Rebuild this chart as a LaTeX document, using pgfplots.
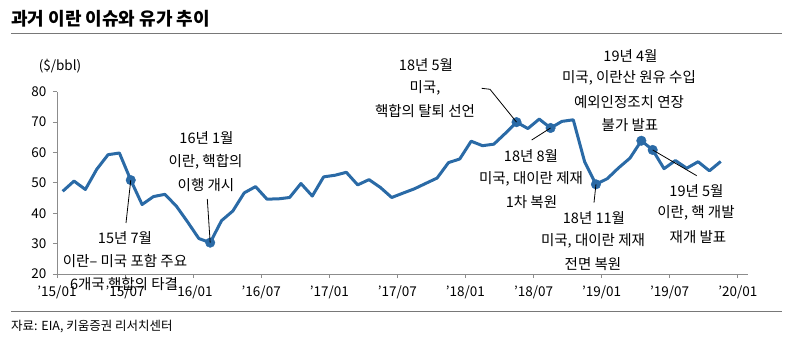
\documentclass[border=0pt]{standalone}
\usepackage{fontspec}
\setmainfont{Noto Sans CJK KR}
\usepackage{pgfplots}
\pgfplotsset{compat=1.18}
\definecolor{oil}{RGB}{42,106,166}
\definecolor{axg}{RGB}{140,140,140}
\definecolor{rule}{RGB}{120,120,120}
\newcommand\annfont{\fontsize{14.5}{16}\selectfont}
\newcommand\T[3]{\node[font=\annfont,inner sep=0pt] at (#1pt,351pt-#2pt) {#3};}
\pgfplotstableread{
m v
0 47.22
1 50.58
2 47.82
3 54.45
4 59.27
5 59.82
6 50.90
7 42.87
8 45.48
9 46.22
10 42.44
11 37.19
12 31.68
13 30.32
14 37.55
15 40.75
16 46.71
17 48.76
18 44.65
19 44.72
20 45.18
21 49.78
22 45.66
23 51.97
24 52.50
25 53.47
26 49.33
27 51.06
28 48.48
29 45.18
30 46.63
31 48.04
32 49.82
33 51.58
34 56.64
35 57.88
36 63.70
37 62.23
38 62.73
39 66.25
40 69.98
41 67.87
42 70.98
43 68.06
44 70.23
45 70.75
46 56.96
47 49.52
48 51.38
49 54.95
50 58.15
51 63.86
52 60.83
53 54.66
54 57.35
55 54.81
56 56.95
57 53.96
58 57.03
}\wti
\begin{document}
\begin{tikzpicture}
\path[use as bounding box] (0,0) rectangle (793pt,351pt);
\begin{axis}[
  at={(57pt,77pt)}, anchor=south west,
  scale only axis, width=691pt, height=182.3pt,
  xmin=-0.5, xmax=60.4, ymin=20, ymax=80,
  axis lines=left,
  axis line style={-, draw=axg, line width=0.8pt},
  xtick={-0.5,5.5,...,59.5},
  xticklabels={'15/01,'15/07,'16/01,'16/07,'17/01,'17/07,'18/01,'18/07,'19/01,'19/07,'20/01},
  ytick={20,30,...,80},
  tick align=outside, major tick length=4pt,
  tick style={draw=axg, line width=0.8pt},
  ticklabel style={font=\fontsize{13.5}{15}\selectfont},
  xticklabel style={yshift=-4pt},
  yticklabel style={xshift=-3pt},
  /pgf/number format/assume math mode=true,
  clip=false,
]
\addplot[color=oil, line width=3pt, line join=round, mark=none] table[x=m, y=v] {\wti};
\addplot[only marks, mark=*, mark size=4.8pt, color=oil] coordinates {(6,50.90) (13,30.32) (40,69.98) (43,68.06) (47,49.52) (51,63.86) (52,60.83)};
\coordinate (m1) at (axis cs:6,50.90);
\coordinate (m2) at (axis cs:13,30.32);
\coordinate (m3) at (axis cs:40,69.98);
\coordinate (m4) at (axis cs:43,68.06);
\coordinate (m5) at (axis cs:47,49.52);
\coordinate (m7) at (axis cs:52,60.83);
\end{axis}
% title and rules
\node[anchor=west, inner sep=0pt, font=\fontsize{18}{20}\selectfont\bfseries] at (11pt,351pt-19pt) {과거 이란 이슈와 유가 추이};
\draw[rule, line width=1pt] (11pt,351pt-33.3pt) -- (782pt,351pt-33.3pt);
\draw[rule, line width=1pt] (11pt,351pt-312pt) -- (782pt,351pt-312pt);
\node[anchor=west, inner sep=0pt, font=\fontsize{12.5}{14}\selectfont] at (11pt,351pt-327pt) {자료: EIA, 키움증권 리서치센터};
\node[inner sep=0pt, font=\fontsize{13.5}{15}\selectfont] at (60pt,351pt-66pt) {(\$/bbl)};
% leader lines
\draw[black, line width=0.8pt] (m1) -- (126pt,351pt-223pt);
\draw[black, line width=0.8pt] (m2) -- (207.3pt,351pt-199pt);
\draw[black, line width=0.8pt] (481.7pt,351pt-88.3pt) -- (490pt,351pt-89.3pt) -- (m3);
\draw[black, line width=0.8pt] (m4) -- (531.7pt,351pt-140pt);
\draw[black, line width=0.8pt] (m5) -- (594pt,351pt-202.7pt);
\draw[black, line width=0.8pt] (m7) -- (696.7pt,351pt-175.7pt);
% annotations
\T{125}{238}{15년 7월}
\T{125}{261}{이란– 미국 포함 주요}
\T{124}{284}{6개국 핵합의 타결}
\T{206.5}{138}{16년 1월}
\T{205.5}{161.7}{이란, 핵합의}
\T{206}{185}{이행 개시}
\T{426}{65}{18년 5월}
\T{425}{87.5}{미국,}
\T{425}{110.7}{핵합의 탈퇴 선언}
\T{531}{156}{18년 8월}
\T{531}{179}{미국, 대이란 제재}
\T{531.5}{202}{1차 복원}
\T{594}{218}{18년 11월}
\T{593}{241}{미국, 대이란 제재}
\T{593}{264}{전면 복원}
\T{630.5}{55.7}{19년 4월}
\T{629}{77.7}{미국, 이란산 원유 수입}
\T{629}{101.7}{예외인정조치 연장}
\T{630}{125}{불가 발표}
\T{696.5}{191}{19년 5월}
\T{696}{213.3}{이란, 핵 개발}
\T{698}{236.7}{재개 발표}
\end{tikzpicture}
\end{document}
